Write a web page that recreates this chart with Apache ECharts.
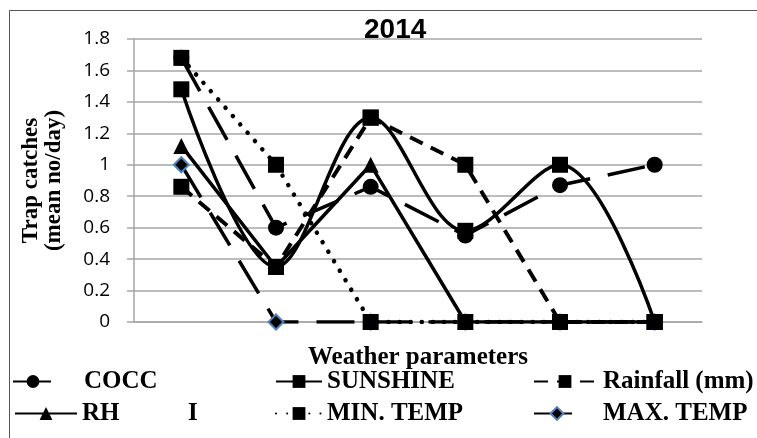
<!DOCTYPE html>
<html>
<head>
<meta charset="utf-8">
<script src="https://cdn.jsdelivr.net/npm/echarts@6/dist/echarts.min.js"></script>
<style>
  html, body { margin: 0; padding: 0; background: #fff; }
  #chart { width: 757px; height: 438px; }
</style>
</head>
<body>
<div id="chart"></div>
<script>
// Weather parameter classes along the x axis (no labels are printed)
const categories = ['1', '2', '3', '4', '5', '6'];

// Trap catches (mean no/day) per series
const cocc     = [1.68, 0.60, 0.86, 0.55, 0.87, 1.00];
const sunshine = [1.48, 0.35, 1.30, 0.58, 1.00, 0.00];
const rainfall = [0.86, 0.35, 1.30, 1.00, 0.00, 0.00];
const rh       = [1.12, 0.35, 1.00, 0.00, 0.00, 0.00];
const minTemp  = [1.68, 1.00, 0.00, 0.00, 0.00, 0.00];
const maxTemp  = [1.00, 0.00, 0.00, 0.00, 0.00, 0.00];

const yTicks = { min: 0, max: 1.8, interval: 0.2 };

const serifBold = { fontFamily: 'Liberation Serif', fontWeight: 'bold', color: '#000' };

const chart = echarts.init(document.getElementById('chart'), null, { renderer: 'canvas' });

function legendAt(name, left, top, itemWidth, textPad) {
  return {
    data: [name],
    left: left,
    top: top,
    orient: 'horizontal',
    itemWidth: itemWidth,
    itemHeight: 16,
    padding: 0,
    selectedMode: false,
    textStyle: Object.assign({ fontSize: 25, padding: [0, 0, 0, textPad] }, serifBold)
  };
}

const option = {
  backgroundColor: '#fff',
  animation: false,
  title: {
    text: '2014',
    left: 359,
    top: 11,
    textStyle: { fontFamily: 'Liberation Sans', fontWeight: 'bold', fontSize: 28, color: '#000' }
  },
  grid: { left: 134, right: 55, top: 39, bottom: 116, outerBoundsMode: 'none', containLabel: false },
  xAxis: {
    type: 'category',
    data: categories,
    boundaryGap: true,
    name: 'Weather parameters',
    nameLocation: 'middle',
    nameGap: 23,
    nameTextStyle: Object.assign({ fontSize: 25 }, serifBold),
    axisLine: { lineStyle: { color: '#a6a6a6', width: 1.5 } },
    axisTick: { show: false },
    axisLabel: { show: false }
  },
  yAxis: {
    type: 'value',
    min: yTicks.min,
    max: yTicks.max,
    interval: yTicks.interval,
    name: 'Trap catches\n(mean no/day)',
    nameLocation: 'middle',
    nameRotate: 90,
    nameGap: 68,
    nameTextStyle: Object.assign({ fontSize: 23, lineHeight: 23 }, serifBold),
    axisLine: { show: true, lineStyle: { color: '#a6a6a6', width: 1.5 } },
    axisTick: { show: true, length: 7, lineStyle: { color: '#a6a6a6', width: 1.5 } },
    axisLabel: {
      margin: 24,
      fontFamily: 'Open Sans',
      fontSize: 19,
      color: '#000',
      formatter: v => String(Math.round(v * 10) / 10)
    },
    splitLine: { lineStyle: { color: '#a6a6a6', width: 1.5 } }
  },
  legend: [
    legendAt('COCC', 12, 369, 40, 26),
    legendAt('SUNSHINE', 275, 369, 46, 0),
    legendAt('Rainfall (mm)', 533, 369, 62, 2),
    legendAt('RH', 14, 401, 62, 0),
    legendAt('MIN. TEMP', 275, 401, 46, 0),
    legendAt('MAX. TEMP', 533, 401, 46, 18)
  ],
  graphic: [
    {
      type: 'rect',
      silent: true,
      z: -1,
      shape: { x: 9.5, y: 10.5, width: 800, height: 500 },
      style: { fill: 'none', stroke: '#555', lineWidth: 1 }
    },
    {
      type: 'text',
      left: 188,
      top: 401,
      style: { text: 'I', fontSize: 25, fill: '#000', fontFamily: 'Liberation Serif', fontWeight: 'bold' }
    }
  ],
  series: [
    {
      name: 'COCC',
      type: 'line',
      data: cocc,
      z: 2,
      symbol: 'circle',
      symbolSize: 16,
      itemStyle: { color: '#000' },
      lineStyle: { color: '#000', width: 3.5, type: [38, 18] }
    },
    {
      name: 'MAX. TEMP',
      type: 'line',
      data: maxTemp,
      z: 3,
      symbol: 'diamond',
      symbolSize: 15,
      itemStyle: { color: '#000', borderColor: '#4f81bd', borderWidth: 2 },
      lineStyle: { color: '#000', width: 3.5, type: [38, 18] }
    },
    {
      name: 'SUNSHINE',
      type: 'line',
      data: sunshine,
      z: 4,
      smooth: 0.35,
      symbol: 'rect',
      symbolSize: 16,
      itemStyle: { color: '#000' },
      lineStyle: { color: '#000', width: 3.5 }
    },
    {
      name: 'Rainfall (mm)',
      type: 'line',
      data: rainfall,
      z: 5,
      symbol: 'rect',
      symbolSize: 16,
      itemStyle: { color: '#000' },
      lineStyle: { color: '#000', width: 4, type: [14, 9] }
    },
    {
      name: 'RH',
      type: 'line',
      data: rh,
      z: 6,
      symbol: 'triangle',
      symbolSize: 16,
      itemStyle: { color: '#000' },
      lineStyle: { color: '#000', width: 3.5 }
    },
    {
      name: 'MIN. TEMP',
      type: 'line',
      data: minTemp,
      z: 7,
      symbol: 'rect',
      symbolSize: 16,
      itemStyle: { color: '#000' },
      lineStyle: { color: '#000', width: 4.5, type: [0.1, 11], cap: 'round' }
    }
  ]
};

chart.setOption(option);
</script>
</body>
</html>
